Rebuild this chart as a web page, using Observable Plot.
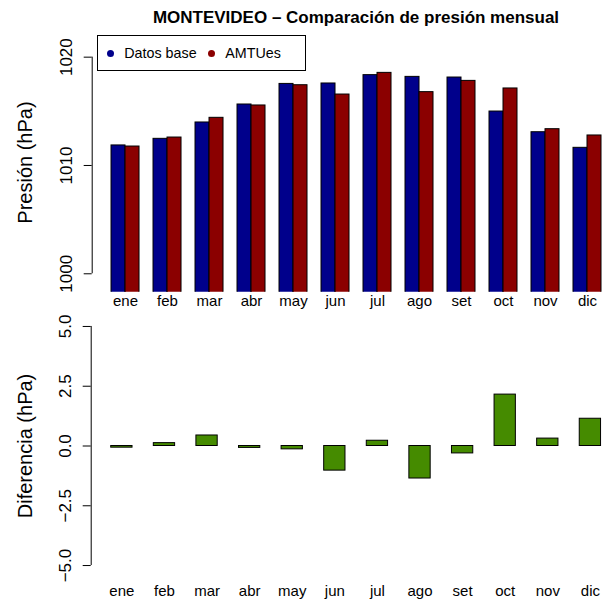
<!DOCTYPE html>
<html><head><meta charset="utf-8">
<script src="https://cdn.jsdelivr.net/npm/d3@7"></script>
<script src="https://cdn.jsdelivr.net/npm/@observablehq/plot@0.6"></script>
<style>
body{margin:0;background:#fff;font-family:"Liberation Sans",Arial,sans-serif;}
#wrap{position:relative;width:608px;height:603px;overflow:hidden;background:#fff;}
#top{position:absolute;left:0;top:0;}
#bottom{position:absolute;left:0;top:310px;}
#title{position:absolute;left:106px;width:500px;top:8px;line-height:20px;font-size:17px;font-weight:bold;text-align:center;color:#000;white-space:nowrap;}
#legend{position:absolute;left:97px;top:35px;width:209px;height:36px;box-sizing:border-box;border:1px solid #000;background:#fff;display:flex;align-items:center;padding-left:8.5px;font-size:14.3px;color:#000;}
.item{display:flex;align-items:center;margin-right:10.9px;}
.dot{width:7px;height:7px;border-radius:50%;display:inline-block;margin-right:10.8px;}
</style></head>
<body>
<div id="wrap">
  <div id="top"></div>
  <div id="bottom"></div>
  <div id="title"></div>
  <div id="legend"></div>
</div>
<script>
const months = ["ene","feb","mar","abr","may","jun","jul","ago","set","oct","nov","dic"];
const series = ["Datos base","AMTUes"];
const datosBase = [1011.85,1012.46,1013.97,1015.63,1017.53,1017.57,1018.34,1018.18,1018.12,1014.98,1013.07,1011.63];
const amtues    = [1011.75,1012.58,1014.40,1015.54,1017.41,1016.55,1018.55,1016.77,1017.81,1017.11,1013.35,1012.77];
const diferencia = [-0.07,0.12,0.44,-0.08,-0.14,-1.03,0.22,-1.36,-0.31,2.15,0.31,1.14];
const presTicks = [1000,1010,1020];
const diffTicks = [-5,-2.5,0,2.5,5];
const titleText = "MONTEVIDEO \u2013 Comparación de presión mensual";
const yLabelTop = "Presión (hPa)";
const yLabelBottom = "Diferencia (hPa)";
const seriesColors = ["#00008B","#8B0000"];
const diffColor = "#458B00";

const font = '"Liberation Sans", Arial, sans-serif';

// top chart table (R barplot layout: 2 bars per group, 1 unit gap)
const topRows = months.flatMap((m,i)=>[datosBase[i],amtues[i]].map((v,j)=>({month:m, serie:series[j], value:v, x1:3*i+1+j, x2:3*i+2+j})));
const topCenters = months.map((m,i)=>3*i+2);
const topXDomain = [-0.38, 36.5];
const topYDomain = [998.3, 1022.24];

const topPlot = Plot.plot({
  width:608, height:310,
  marginTop:32.4, marginBottom:18.3, marginLeft:91.7, marginRight:0,
  x:{type:"linear", domain:topXDomain, axis:null},
  y:{domain:topYDomain, axis:null},
  color:{domain:series, range:seriesColors},
  style:{fontFamily:font, background:"white", color:"black", overflow:"visible"},
  marks:[
    Plot.rect(topRows,{x1:"x1", x2:"x2", y1:()=>0, y2:"value", fill:"serie", stroke:"black", strokeWidth:1, clip:true}),
    Plot.ruleX([topXDomain[0]],{y1:d3.min(presTicks), y2:d3.max(presTicks), stroke:"black"}),
    Plot.axisY(presTicks,{anchor:"left", tickSize:8, tickPadding:12, tickRotate:-90, fontSize:17, label:null, stroke:"black", tickFormat:d3.format("d")}),
    Plot.axisX(topCenters,{anchor:"bottom", tickSize:0, tickPadding:3.4, fontSize:15, label:null, tickFormat:d=>months[Math.round((d-2)/3)]}),
    Plot.text([yLabelTop],{text:d=>d, frameAnchor:"left", rotate:-90, dx:-60, lineAnchor:"bottom", textAnchor:"middle", fontSize:20, fill:"black"})
  ]
});
document.getElementById("top").appendChild(topPlot);

// bottom chart
const diffRows = months.map((m,i)=>({month:m, value:diferencia[i], x1:2*i+1, x2:2*i+2}));
const diffCenters = months.map((m,i)=>2*i+1.5);
const botXDomain = [0.06, 24.35];
const botYDomain = [-5.4, 5.4];

const bottomPlot = Plot.plot({
  width:608, height:293,
  marginTop:6.4, marginBottom:28.4, marginLeft:90.7, marginRight:0,
  x:{type:"linear", domain:botXDomain, axis:null},
  y:{domain:botYDomain, axis:null},
  style:{fontFamily:font, background:"white", color:"black", overflow:"visible"},
  marks:[
    Plot.rect(diffRows,{x1:"x1", x2:"x2", y1:()=>0, y2:"value", fill:diffColor, stroke:"black", strokeWidth:1}),
    Plot.ruleX([botXDomain[0]],{y1:d3.min(diffTicks), y2:d3.max(diffTicks), stroke:"black"}),
    Plot.axisY(diffTicks,{anchor:"left", tickSize:8, tickPadding:12, tickRotate:-90, fontSize:17, label:null, stroke:"black", tickFormat:d3.format(".1f")}),
    Plot.axisX(diffCenters,{anchor:"bottom", tickSize:0, tickPadding:10.4, fontSize:15, label:null, tickFormat:d=>months[Math.round((d-1.5)/2)]}),
    Plot.text([yLabelBottom],{text:d=>d, frameAnchor:"left", rotate:-90, dx:-59, lineAnchor:"bottom", textAnchor:"middle", fontSize:20, fill:"black"})
  ]
});
document.getElementById("bottom").appendChild(bottomPlot);

document.getElementById("title").textContent = titleText;
const legend = document.getElementById("legend");
series.forEach((s,i)=>{
  const item = document.createElement("span");
  item.className = "item";
  const dot = document.createElement("span");
  dot.className = "dot";
  dot.style.background = seriesColors[i];
  const label = document.createElement("span");
  label.textContent = s;
  item.appendChild(dot); item.appendChild(label);
  legend.appendChild(item);
});
</script>
</body></html>
